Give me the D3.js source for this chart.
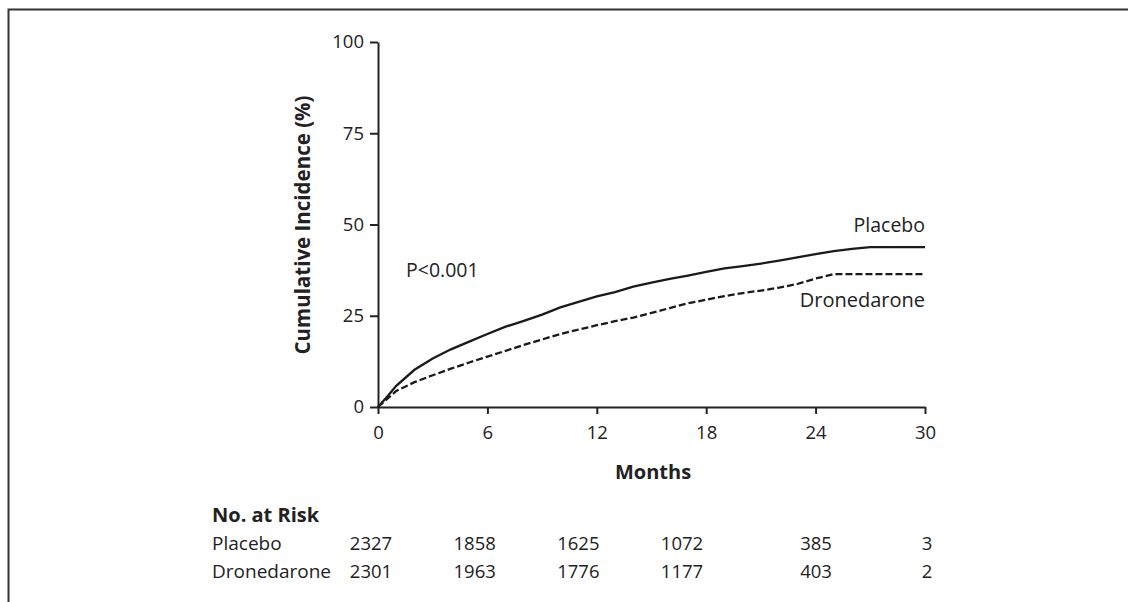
<!DOCTYPE html>
<html>
<head>
<meta charset="utf-8">
<script src="https://cdn.jsdelivr.net/npm/d3@7"></script>
<style>
  body { margin: 0; background: #fff; }
  text { font-family: "Open Sans", "Noto Sans", sans-serif; fill: #222; }
  .axis path, .axis line { stroke: #222; stroke-width: 2px; }
  .axis text { font-size: 18.5px; fill: #222; }
</style>
</head>
<body>
<div id="chart"></div>
<script>
// Curve readings (cumulative incidence, %)
var months = [0, 0.5, 1, 2, 3, 4, 5, 6, 7, 8, 9, 10, 11, 12, 13, 14, 15,
  16, 17, 18, 19, 20, 21, 22, 23, 24, 25, 26, 27, 28, 29, 30];
var placebo = [0, 2.8, 5.8, 10.2, 13.3, 15.8, 17.9, 20, 22, 23.6, 25.3, 27.3, 28.8, 30.3, 31.5, 33, 34.1,
  35.1, 36, 37, 38, 38.6, 39.3, 40.1, 41, 41.9, 42.7, 43.3, 43.8, 43.8, 43.8, 43.8];
var dronedarone = [0, 2.2, 4.4, 6.8, 8.7, 10.5, 12.2, 13.8, 15.4, 17, 18.5, 20, 21.2, 22.4, 23.5, 24.5, 25.8,
  27.1, 28.4, 29.4, 30.4, 31.2, 31.9, 32.7, 33.7, 35.2, 36.4, 36.4, 36.4, 36.4, 36.4, 36.4];

var xTicks = [0, 6, 12, 18, 24, 30];
var yTicks = [0, 25, 50, 75, 100];

// Number at risk table
var riskMonths = [0, 6, 12, 18, 24, 30];
var riskGroups = ["Placebo", "Dronedarone"];
var riskPlacebo = [2327, 1858, 1625, 1072, 385, 3];
var riskDronedarone = [2301, 1963, 1776, 1177, 403, 2];

var svgWidth = 1128;
var svgHeight = 602;

var svg = d3.select("#chart")
  .append("svg")
  .attr("width", svgWidth)
  .attr("height", svgHeight);

// frame (left and top edges only visible)
svg.append("rect")
  .attr("x", 8.5)
  .attr("y", 9.5)
  .attr("width", svgWidth + 20)
  .attr("height", svgHeight + 20)
  .attr("fill", "none")
  .attr("stroke", "#333")
  .attr("stroke-width", 2);

var xScale = d3.scaleLinear().domain([0, 30]).range([378, 925]);
var yScale = d3.scaleLinear().domain([0, 100]).range([407, 42]);

// x axis
svg.append("g")
  .attr("class", "axis")
  .attr("transform", "translate(0, 407)")
  .call(d3.axisBottom(xScale).tickValues(xTicks).tickSize(7).tickSizeOuter(0).tickPadding(12));

// y axis
svg.append("g")
  .attr("class", "axis")
  .attr("transform", "translate(378, 0)")
  .call(d3.axisLeft(yScale).tickValues(yTicks).tickSize(8).tickSizeOuter(0).tickPadding(6));

// curves
var line = d3.line()
  .x(function(d, i) { return xScale(months[i]); })
  .y(function(d) { return yScale(d); })
  .curve(d3.curveLinear);

svg.append("path")
  .datum(dronedarone)
  .attr("d", line)
  .attr("fill", "none")
  .attr("stroke", "#1a1a1a")
  .attr("stroke-width", 2.3)
  .attr("stroke-dasharray", "7,3");

svg.append("path")
  .datum(placebo)
  .attr("d", line)
  .attr("fill", "none")
  .attr("stroke", "#1a1a1a")
  .attr("stroke-width", 2.3);

// curve labels
svg.append("text")
  .attr("x", xScale(30))
  .attr("y", 232)
  .attr("text-anchor", "end")
  .style("font-size", "19.5px")
  .text("Placebo");

svg.append("text")
  .attr("x", xScale(30))
  .attr("y", 307)
  .attr("text-anchor", "end")
  .style("font-size", "20px")
  .text("Dronedarone");

svg.append("text")
  .attr("x", 406)
  .attr("y", 277)
  .style("font-size", "19.5px")
  .text("P<0.001");

// axis titles
svg.append("text")
  .attr("transform", "translate(310, 225) rotate(-90)")
  .attr("text-anchor", "middle")
  .style("font-size", "20.5px")
  .style("font-weight", "bold")
  .text("Cumulative Incidence (%)");

svg.append("text")
  .attr("x", 653)
  .attr("y", 479)
  .attr("text-anchor", "middle")
  .style("font-size", "20px")
  .style("font-weight", "bold")
  .text("Months");

// No. at risk
svg.append("text")
  .attr("x", 212)
  .attr("y", 522)
  .style("font-size", "20px")
  .style("font-weight", "bold")
  .text("No. at Risk");

var rowY = d3.scalePoint().domain(riskGroups).range([550, 578]);
// the risk columns sit a little left of the ticks in the original
var colX = d3.scaleLinear().domain([0, 18, 24, 30]).range([371, 682, 816, 927]);

svg.selectAll(".rowlabel")
  .data(riskGroups)
  .enter()
  .append("text")
  .attr("class", "rowlabel")
  .attr("x", 212)
  .attr("y", function(d) { return rowY(d); })
  .style("font-size", "19px")
  .text(function(d) { return d; });

[riskPlacebo, riskDronedarone].forEach(function(vals, g) {
  svg.selectAll(".risk" + g)
    .data(vals)
    .enter()
    .append("text")
    .attr("class", "risk" + g)
    .attr("x", function(d, i) { return colX(riskMonths[i]); })
    .attr("y", rowY(riskGroups[g]))
    .attr("text-anchor", "middle")
    .style("font-size", "18.5px")
    .text(function(d) { return d; });
});
</script>
</body>
</html>
